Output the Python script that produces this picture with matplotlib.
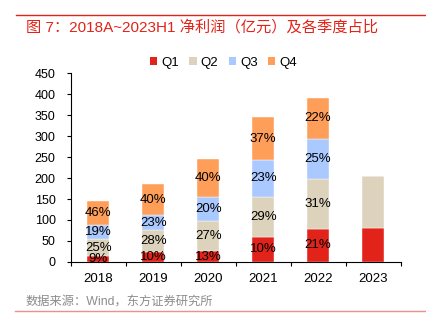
import numpy as np
import matplotlib
matplotlib.use('Agg')
import matplotlib.pyplot as plt
from matplotlib.patches import Patch
from matplotlib.lines import Line2D

plt.rcParams['font.family'] = ['Liberation Sans', 'Noto Sans CJK SC', 'DejaVu Sans']

years = ['2018', '2019', '2020', '2021', '2022', '2023']
q1 = [14, 24, 25, 60, 79, 81]
q2 = [40, 51, 72, 96, 119, 124]
q3 = [33, 36.5, 57, 87, 96, 0]
q4 = [59, 74.5, 92, 102, 96, 0]
p1 = ['9%', '10%', '13%', '10%', '21%', '']
p2 = ['25%', '28%', '27%', '29%', '31%', '']
p3 = ['19%', '23%', '20%', '23%', '25%', '']
p4 = ['46%', '40%', '40%', '37%', '22%', '']

names = ['Q1', 'Q2', 'Q3', 'Q4']
colors = ['#E2231A', '#DDD3BD', '#A9C9FF', '#FF9E59']

fig = plt.figure(figsize=(4.27, 3.21), dpi=100)
ax = fig.add_axes([0.166, 0.184, 0.772, 0.588])

x = np.arange(len(years))
bottom = np.zeros(len(years))
for vals, labs, c in zip([q1, q2, q3, q4], [p1, p2, p3, p4], colors):
    vals = np.array(vals, dtype=float)
    ax.bar(x, vals, 0.4, bottom=bottom, color=c, edgecolor='white', linewidth=0.3)
    for xi, b, v, t in zip(x, bottom, vals, labs):
        if t:
            ax.text(xi, b + v / 2, t, ha='center', va='center', fontsize=9.5, color='black')
    bottom += vals

ax.set_xlim(-0.5, len(years) - 0.5)
ax.set_ylim(0, 450)
ax.set_yticks(np.arange(0, 451, 50))
ax.set_xticks(x)
ax.set_xticklabels(years)
ax.set_xticks(np.arange(-0.5, len(years)), minor=True)
ax.tick_params(axis='x', which='major', length=0, pad=8, labelsize=9.5)
ax.tick_params(axis='x', which='minor', length=3, width=0.8, direction='out')
ax.tick_params(axis='y', length=3, width=0.8, direction='out', pad=8, labelsize=9)
ax.spines['top'].set_visible(False)
ax.spines['right'].set_visible(False)
ax.spines['left'].set_linewidth(0.8)
ax.spines['bottom'].set_linewidth(0.8)

handles = [Patch(facecolor=c, edgecolor='none', label=n) for c, n in zip(colors, names)]
fig.legend(handles=handles, loc='center', bbox_to_anchor=(0.523, 0.804), ncol=4,
           frameon=False, fontsize=9.5, handlelength=0.55, handleheight=0.55,
           handletextpad=0.3, columnspacing=0.8)

fig.text(0.061, 0.915, '图 7：2018A~2023H1 净利润（亿元）及各季度占比', color='#E2231A',
         fontsize=11, ha='left', va='center', weight='medium')
fig.add_artist(Line2D([0.037, 1.0], [0.953, 0.953], color='#E2231A', lw=1.0))
fig.text(0.059, 0.057, '数据来源：Wind，东方证券研究所', color='#8C8C8C', fontsize=8.8,
         ha='left', va='center')
fig.add_artist(Line2D([0.035, 1.0], [0.031, 0.031], color='#EE8F8C', lw=1.0))

fig.savefig('out.png', dpi=100)
